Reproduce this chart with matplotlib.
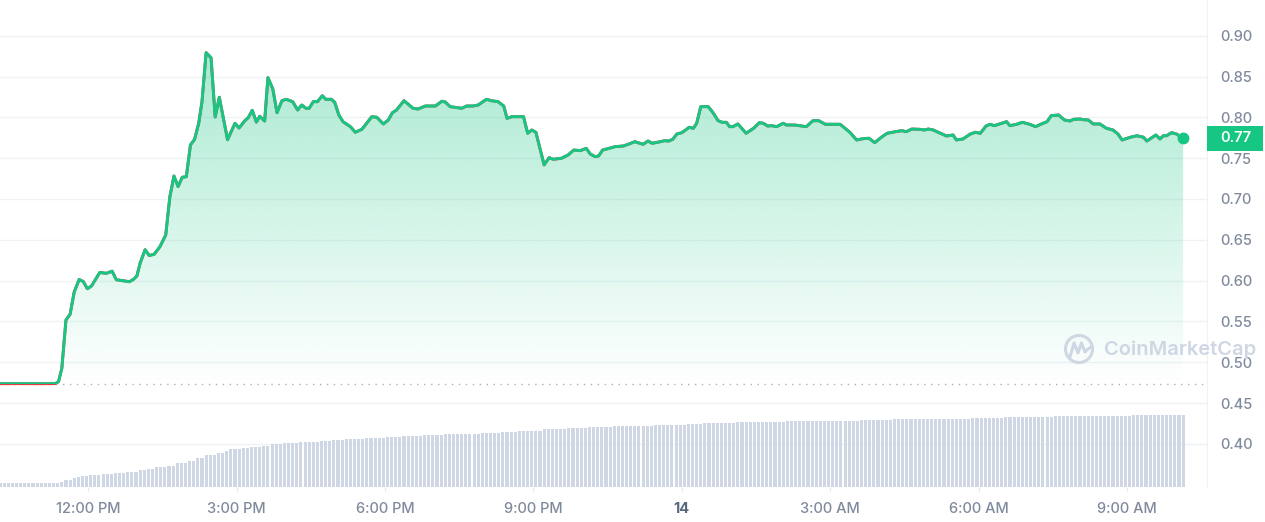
import numpy as np
import matplotlib.pyplot as plt
from matplotlib.patches import Circle, Rectangle, Polygon
from matplotlib.transforms import blended_transform_factory

plt.rcParams['font.family'] = ['Inter', 'DejaVu Sans']

# chart starts 10:13 on the 13th, x axis in hours since midnight of the 13th
start_h = 10 + 13 / 60
open_price = 0.4740

# price readings: minutes after start, price
minutes = [0, 24, 48, 67, 71, 75, 80, 85, 90, 96, 101, 106, 111, 121, 129, 136, 141, 157, 162, 166,
           170, 176, 181, 187, 194, 201, 206, 211, 216, 221, 226, 231, 236, 241, 245, 250, 256, 261, 266, 276,
           285, 290, 297, 301, 306, 311, 315, 321, 325, 331, 336, 342, 347, 355, 361, 366, 371, 375, 380, 385,
           391, 395, 402, 406, 411, 416, 425, 431, 439, 451, 457, 465, 471, 476, 481, 490, 501, 507, 516, 528,
           536, 540, 546, 560, 566, 574, 580, 590, 596, 604, 611, 615, 621, 635, 640, 645, 650, 660, 666, 671,
           681, 689, 696, 704, 711, 716, 722, 726, 731, 739, 746, 756, 763, 770, 780, 786, 791, 801, 806, 811,
           816, 821, 827, 836, 841, 845, 850, 859, 864, 871, 876, 881, 885, 889, 895, 905, 914, 921, 926, 931,
           936, 942, 950, 954, 964, 978, 986, 993, 1001, 1019, 1025, 1031, 1039, 1047, 1054, 1061, 1069, 1076, 1086, 1094,
           1099, 1106, 1116, 1121, 1126, 1132, 1138, 1148, 1156, 1160, 1168, 1177, 1183, 1189, 1196, 1201, 1206, 1215, 1221, 1225,
           1233, 1240, 1249, 1256, 1265, 1270, 1275, 1284, 1291, 1298, 1302, 1310, 1314, 1320, 1326, 1334, 1342, 1350, 1356, 1361,
           1371, 1379, 1387, 1391, 1399, 1402, 1407, 1411, 1415, 1421, 1427, 1435]
price = [0.4738, 0.4739, 0.4738, 0.4739, 0.4763, 0.4927, 0.5518, 0.5588, 0.5861, 0.6014, 0.5990, 0.5901, 0.5935, 0.6100, 0.6090, 0.6116, 0.6012, 0.5987, 0.6017, 0.6057,
         0.6216, 0.6379, 0.6308, 0.6323, 0.6416, 0.6559, 0.7025, 0.7282, 0.7151, 0.7266, 0.7273, 0.7662, 0.7731, 0.7927, 0.8192, 0.8792, 0.8729, 0.8004, 0.8246, 0.7726,
         0.7927, 0.7870, 0.7959, 0.7995, 0.8086, 0.7941, 0.8013, 0.7955, 0.8486, 0.8344, 0.8057, 0.8204, 0.8221, 0.8192, 0.8090, 0.8151, 0.8111, 0.8111, 0.8192, 0.8192,
         0.8265, 0.8221, 0.8221, 0.8184, 0.8029, 0.7947, 0.7886, 0.7817, 0.7854, 0.8008, 0.8001, 0.7919, 0.7968, 0.8057, 0.8090, 0.8204, 0.8111, 0.8102, 0.8139, 0.8139,
         0.8197, 0.8188, 0.8131, 0.8111, 0.8139, 0.8139, 0.8151, 0.8221, 0.8204, 0.8192, 0.8139, 0.7988, 0.8008, 0.8008, 0.7805, 0.7845, 0.7817, 0.7417, 0.7506, 0.7486,
         0.7499, 0.7539, 0.7600, 0.7592, 0.7621, 0.7551, 0.7518, 0.7527, 0.7600, 0.7621, 0.7641, 0.7649, 0.7674, 0.7702, 0.7670, 0.7710, 0.7682, 0.7702, 0.7714, 0.7710,
         0.7731, 0.7796, 0.7812, 0.7878, 0.7866, 0.7927, 0.8131, 0.8131, 0.8069, 0.7959, 0.7939, 0.7939, 0.7886, 0.7886, 0.7919, 0.7805, 0.7866, 0.7935, 0.7927, 0.7894,
         0.7898, 0.7886, 0.7927, 0.7906, 0.7906, 0.7886, 0.7959, 0.7959, 0.7915, 0.7915, 0.7866, 0.7815, 0.7723, 0.7739, 0.7744, 0.7690, 0.7756, 0.7805, 0.7824, 0.7837,
         0.7824, 0.7857, 0.7853, 0.7845, 0.7857, 0.7845, 0.7817, 0.7772, 0.7784, 0.7723, 0.7735, 0.7796, 0.7817, 0.7805, 0.7894, 0.7915, 0.7898, 0.7927, 0.7947, 0.7898,
         0.7915, 0.7939, 0.7915, 0.7886, 0.7927, 0.7947, 0.8020, 0.8029, 0.7968, 0.7955, 0.7976, 0.7980, 0.7971, 0.7968, 0.7919, 0.7919, 0.7866, 0.7845, 0.7796, 0.7723,
         0.7756, 0.7775, 0.7756, 0.7710, 0.7763, 0.7784, 0.7735, 0.7775, 0.7775, 0.7812, 0.7796, 0.7744]

# 24h volume, one bar per 5 minutes (relative units), one row per hour
volume = [
    4, 4, 4, 4, 4, 4, 4, 4, 4, 4, 4, 4,
    4, 4, 4, 5, 7, 7, 9, 10, 11, 11, 12, 12,
    12, 13, 13, 13, 14, 14, 14, 15, 15, 15, 17, 17,
    18, 18, 20, 20, 20, 21, 21, 24, 24, 24, 26, 26,
    29, 29, 32, 32, 32, 34, 34, 36, 38, 38, 38, 39,
    39, 40, 40, 40, 41, 41, 43, 43, 43, 44, 44, 44,
    44, 45, 45, 45, 45, 45, 46, 46, 46, 47, 47, 47,
    48, 48, 48, 48, 48, 49, 49, 49, 49, 49, 50, 50,
    50, 50, 51, 51, 51, 51, 51, 52, 52, 52, 52, 52,
    53, 53, 53, 53, 53, 53, 53, 53, 53, 54, 54, 54,
    54, 54, 55, 55, 55, 55, 56, 56, 56, 56, 56, 56,
    57.5, 57.5, 57.5, 57.5, 57.5, 57.5, 58.7, 58.7, 58.7, 58.7, 58.7, 59.7,
    59.7, 59.7, 59.7, 59.7, 59.7, 60.7, 60.7, 60.7, 60.7, 60.7, 60.7, 60.7,
    60.7, 60.7, 60.7, 62, 62, 62, 62, 62, 62, 62, 62, 63,
    63, 63, 63, 64, 64, 64, 64, 64, 64, 64, 64, 65,
    65, 65, 65, 65, 65, 65, 65, 65, 65, 65, 65, 66,
    66, 66, 66, 66, 66, 66, 66, 66, 66, 66, 66, 66,
    66, 66, 66, 66, 66, 67, 67, 67, 67, 67, 67, 67,
    67, 68, 68, 68, 68, 68, 68, 68, 68, 68, 68, 68,
    68, 68, 68, 68, 68, 68, 68, 68, 69, 69, 69, 69,
    69, 69, 69, 69, 70, 70, 70, 70, 70, 70, 70, 70,
    70, 70, 70, 70, 71, 71, 71, 71, 71, 71, 71, 71,
    71, 71, 71, 71, 71, 71, 71, 71, 71, 71, 71, 72,
    72, 72, 72, 72, 72, 72, 72, 72, 72, 72, 72, 72,
]

tick_hours = [12, 15, 18, 21, 24, 27, 30, 33]
tick_labels = ['12:00 PM', '3:00 PM', '6:00 PM', '9:00 PM', '14', '3:00 AM', '6:00 AM', '9:00 AM']
y_ticks = [0.40, 0.45, 0.50, 0.55, 0.60, 0.65, 0.70, 0.75, 0.80, 0.85, 0.90]

GREEN = '#16c784'
RED = '#ea3943'
GRID = '#eff2f5'
LABEL = '#808a9d'

t = start_h + np.array(minutes) / 60
p = np.array(price)
t_vol = start_h + np.arange(len(volume)) * 5 / 60

fig = plt.figure(figsize=(12.65, 5.22), dpi=100)
ax = fig.add_axes([0, 35 / 522, 1207 / 1265, 487 / 522])

# gradient fill between price and open price
verts = [(t[0], open_price)] + list(zip(t, np.maximum(p, open_price))) + [(t[-1], open_price)]
fill_poly = Polygon(verts, closed=True, facecolor='none', edgecolor='none')
ax.add_patch(fill_poly)
grad = np.zeros((256, 1, 4))
grad[..., 0], grad[..., 1], grad[..., 2] = 22 / 255, 199 / 255, 132 / 255
grad[..., 3] = np.linspace(0, 0.39, 256).reshape(-1, 1)
im = ax.imshow(grad, extent=[t[0], t[-1], open_price, 0.90], origin='lower',
               aspect='auto', zorder=1, interpolation='bilinear')
im.set_clip_path(fill_poly)

ax.axhline(open_price, color='#a6b0c3', lw=1, ls=(0, (1, 4)), zorder=2)

ax.plot(t, p, color=RED, lw=2.1, zorder=3, solid_joinstyle='round')
green_line, = ax.plot(t, p, color=GREEN, lw=2.1, zorder=4, solid_joinstyle='round')
green_line.set_clip_path(Rectangle((t[0] - 1, open_price), 40, 1, transform=ax.transData))
ax.plot(t[-1], p[-1], 'o', ms=7.5, color=GREEN, zorder=5, clip_on=False)

xmin, xmax = start_h, start_h + 1464 / 60
ax.set_xlim(xmin, xmax)
ax.set_ylim(0.3473, 0.9437)

ax.set_yticks(y_ticks, [f'{v:.2f}' for v in y_ticks])
ax.yaxis.tick_right()
ax.grid(axis='y', color=GRID, lw=1, zorder=0)
ax.set_axisbelow(True)
ax.tick_params(axis='y', length=0, pad=9.5, labelcolor=LABEL, labelsize=10.5)
ax.set_xticks(tick_hours, tick_labels)
ax.tick_params(axis='x', length=3, color='#e3e6ec', pad=8, labelcolor=LABEL, labelsize=10.5)
for lab in ax.get_xticklabels() + ax.get_yticklabels():
    lab.set_fontweight('medium')
lab14 = ax.get_xticklabels()[4]
lab14.set_fontweight('bold')
lab14.set_color('#58667e')
for side in ['top', 'left', 'bottom']:
    ax.spines[side].set_visible(False)
ax.spines['right'].set_color(GRID)

# last price tag
bt = blended_transform_factory(ax.transAxes, ax.transData)
ax.add_patch(Rectangle((1.0, p[-1] - 0.0153), 56 / 1207, 0.0306, transform=bt,
                       facecolor=GREEN, edgecolor='none', clip_on=False, zorder=6))
ax.text(1220 / 1207, p[-1], f'{p[-1]:.2f}', transform=bt, color='white', fontsize=10.5,
        fontweight='semibold', ha='left', va='center', zorder=7, clip_on=False)

# volume bars
ax_v = fig.add_axes(ax.get_position().bounds, sharex=ax)
ax_v.bar(t_vol, volume, width=5 / 60 * 0.75, color='#cfd6e4', zorder=2)
ax_v.set_ylim(0, max(volume) / 0.148)
ax_v.set_xlim(xmin, xmax)
ax_v.axis('off')

# watermark
ax_o = fig.add_axes([0, 0, 1, 1])
ax_o.set_xlim(0, 1265)
ax_o.set_ylim(522, 0)
ax_o.axis('off')
ax_o.add_patch(Circle((1079, 349), 13.5, fill=False, lw=2.2, ec='#cfd6e4'))
ax_o.plot([1070, 1074, 1078, 1081.5, 1085, 1088, 1091], [357, 343, 353, 343, 352, 349, 347],
          color='#cfd6e4', lw=2.2, solid_joinstyle='round', solid_capstyle='round')
ax_o.text(1104, 350, 'CoinMarketCap', fontsize=14.5, color='#cfd6e4', fontweight='semibold',
          ha='left', va='center')

fig.savefig('out.png', dpi=100)
